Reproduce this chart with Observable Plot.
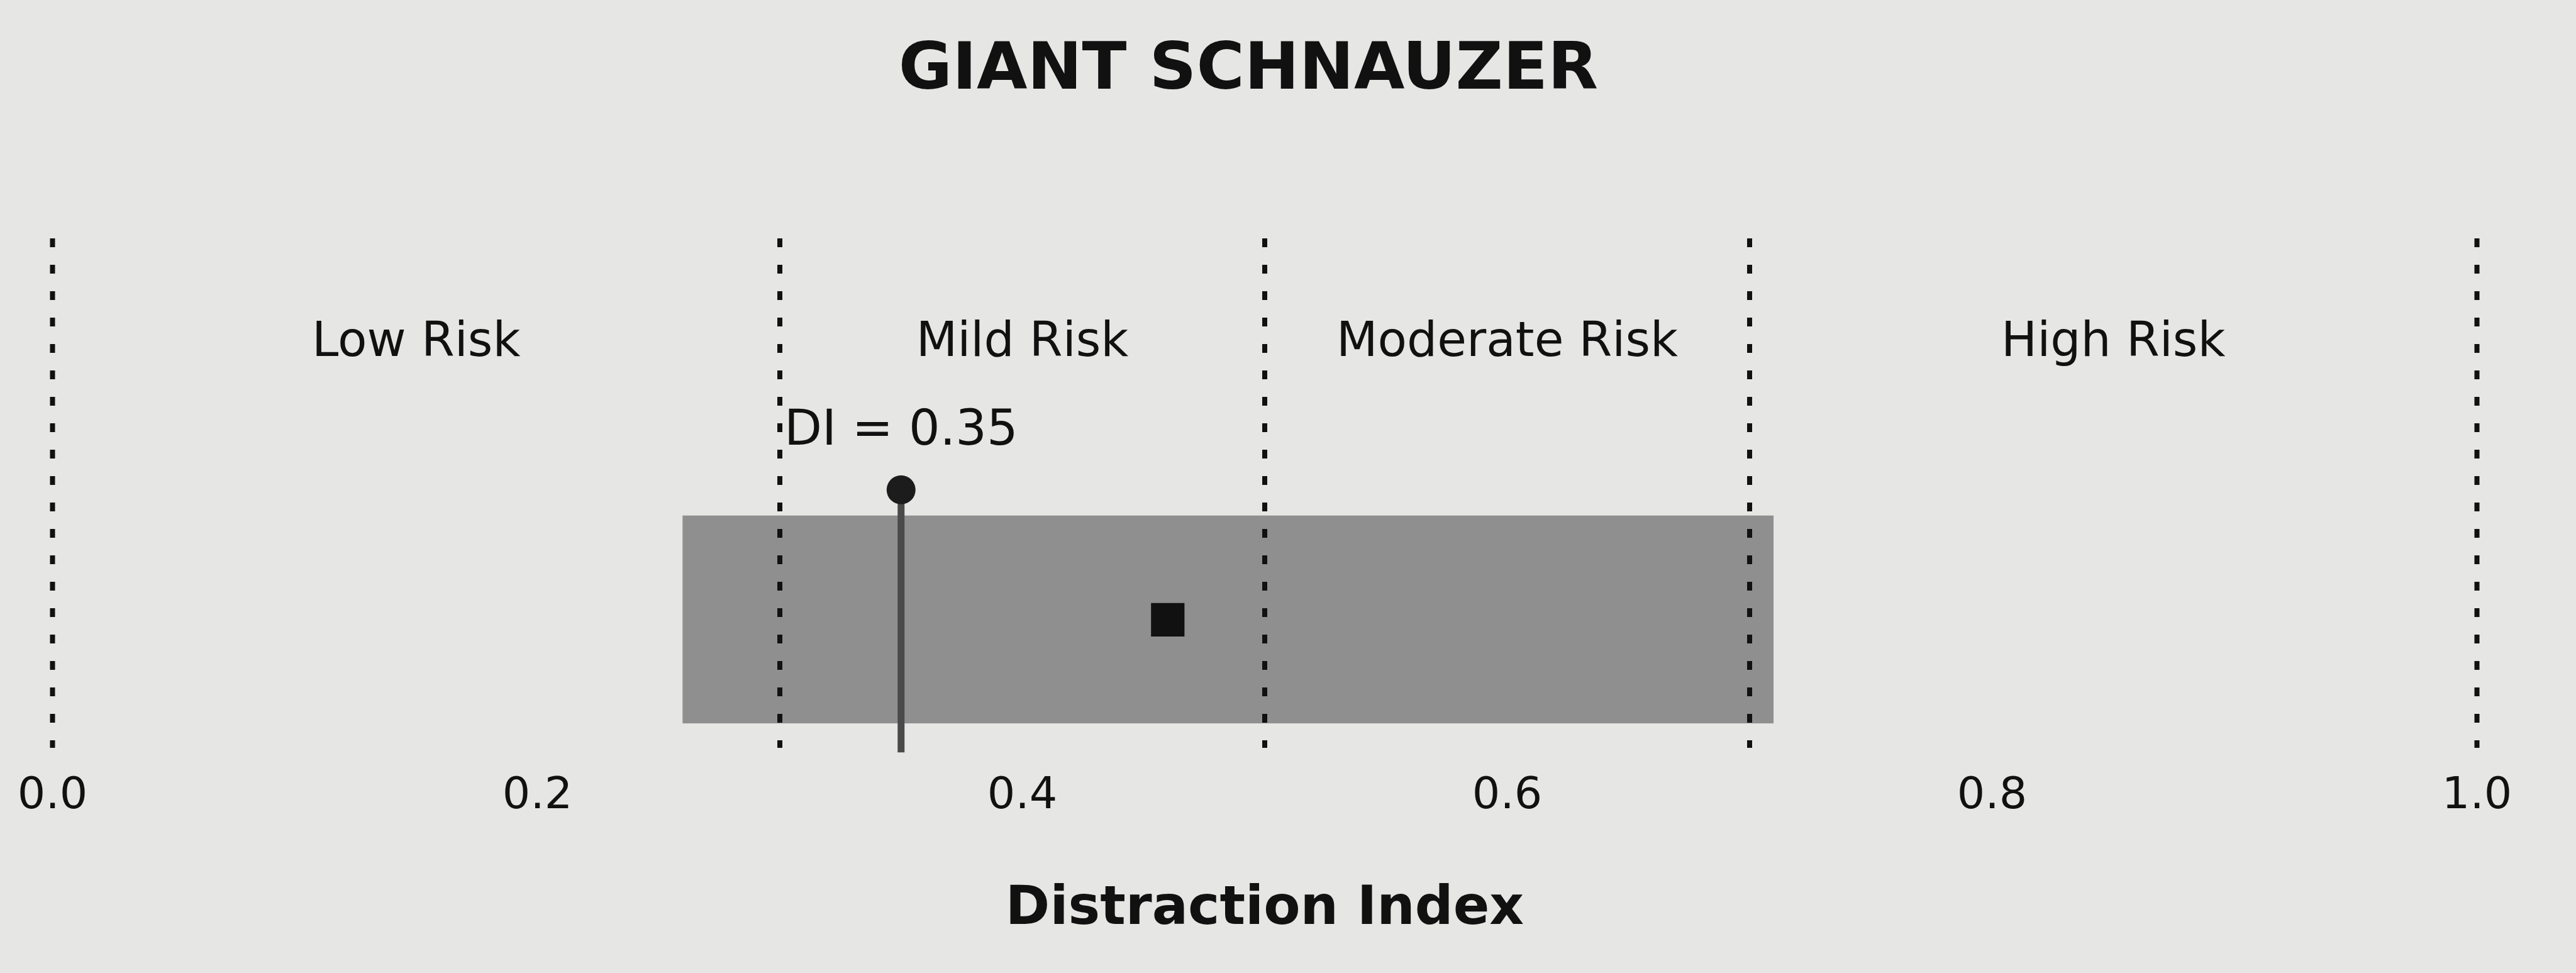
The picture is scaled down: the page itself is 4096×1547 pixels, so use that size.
<!DOCTYPE html>
<html><head><meta charset="utf-8">
<script src="https://cdn.jsdelivr.net/npm/d3@7"></script>
<script src="https://cdn.jsdelivr.net/npm/@observablehq/plot@0.6"></script>
<style>
html,body{margin:0;padding:0;background:#e6e6e4;}
#title{width:3970px;height:200px;line-height:210px;text-align:center;font-family:"DejaVu Sans",sans-serif;font-weight:bold;font-size:104px;color:#111;}
#chart svg{display:block;}
</style></head><body>
<div id="title"></div>
<div id="chart"></div>
<script>
// ---- data ----
const chartTitle = "GIANT SCHNAUZER";
const riskBreaks = [0.0, 0.3, 0.5, 0.7, 1.0];
const riskLabels = ["Low Risk", "Mild Risk", "Moderate Risk", "High Risk"];
const intervalLow = [0.26];
const intervalHigh = [0.71];
const meanValue = [0.46];
const diValue = [0.35];
const tickValues = [0.0, 0.2, 0.4, 0.6, 0.8, 1.0];
const xLabel = "Distraction Index";

// ---- layout (vertical positions as fractions of the frame) ----
const L = {bandBottom: 0.048, bandTop: 0.456, mean: 0.252, diDot: 0.507, diBase: -0.009, diText: 0.626, regionText: 0.8};

document.getElementById("title").textContent = chartTitle;

const ink = "#111";
const font = "DejaVu Sans";

const plot = Plot.plot({
  width: 4096,
  height: 1347,
  marginLeft: 83,
  marginRight: 158,
  marginTop: 179,
  marginBottom: 358,
  style: {background: "transparent", fontFamily: font, fontSize: "70px", color: ink},
  x: {domain: [0, 1]},
  y: {domain: [0, 1], axis: null},
  marks: [
    Plot.rect(intervalLow, {x1: d => d, x2: (d, i) => intervalHigh[i], y1: () => L.bandBottom, y2: () => L.bandTop, fill: "#8f8f8f"}),
    Plot.ruleX(riskBreaks, {stroke: ink, strokeWidth: 8, strokeDasharray: "14,28"}),
    Plot.ruleX(diValue, {y1: () => L.diBase, y2: () => L.diDot, stroke: "#4a4a4a", strokeWidth: 11}),
    Plot.dot(diValue, {x: d => d, y: () => L.diDot, r: 23, fill: "#1c1c1c", stroke: "none"}),
    Plot.dot(meanValue, {x: d => d, y: () => L.mean, symbol: "square", r: 30, fill: "#111", stroke: "none"}),
    Plot.text(diValue, {x: d => d, y: () => L.diText, text: d => `DI = ${d.toFixed(2)}`, fontSize: 78, fill: ink}),
    Plot.text(riskLabels, {x: (d, i) => (riskBreaks[i] + riskBreaks[i + 1]) / 2, y: () => L.regionText, text: d => d, fontSize: 76, fill: ink}),
    Plot.axisX({ticks: tickValues, tickFormat: d3.format(".1f"), tickSize: 0, tickPadding: 46, label: null, fontSize: 70}),
    Plot.text([xLabel], {text: d => d, frameAnchor: "bottom", dy: 279, fontSize: 85, fontWeight: "bold", fill: ink})
  ]
});
document.getElementById("chart").appendChild(plot);
</script>
</body></html>
